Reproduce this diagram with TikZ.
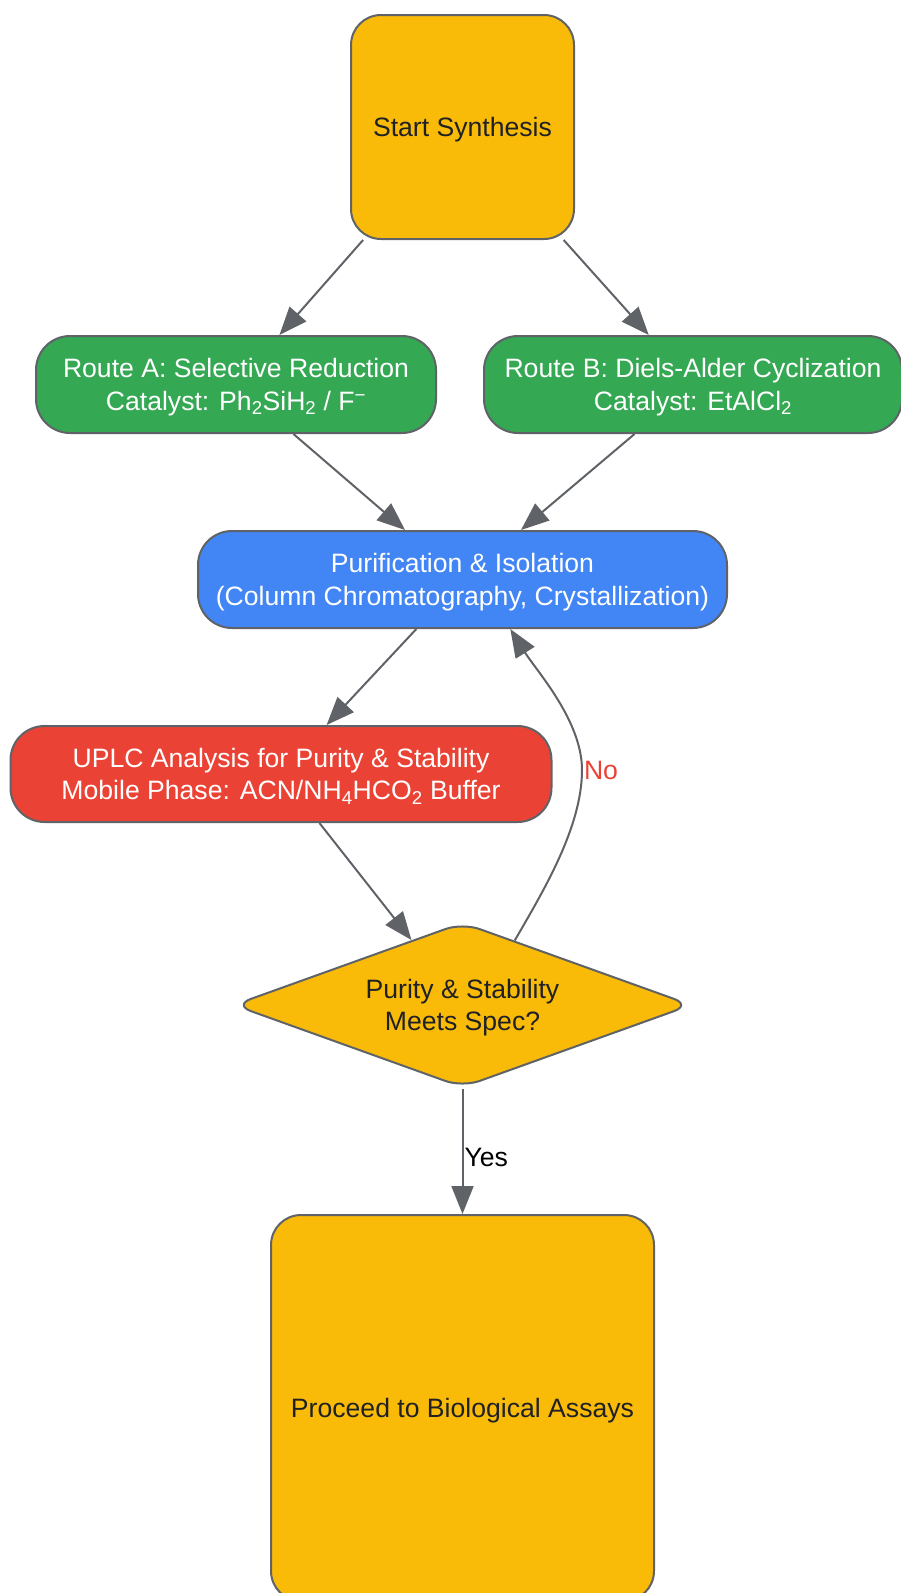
\documentclass[tikz,border=0pt]{standalone}
\usepackage{fontspec}
\setmainfont{Liberation Sans}
\usetikzlibrary{shapes.geometric,arrows.meta}
\definecolor{gyellow}{HTML}{F9BB08}
\definecolor{ggreen}{HTML}{34A853}
\definecolor{gblue}{HTML}{4285F4}
\definecolor{gred}{HTML}{EA4335}
\definecolor{linegray}{HTML}{5F6368}
\definecolor{ink}{HTML}{202124}
\begin{document}
\begin{tikzpicture}[x=1pt,y=-1pt,
  every node/.style={font=\fontsize{26.6}{32.5}\selectfont},
  box/.style={draw=linegray,line width=2pt,rounded corners=30pt,align=center,inner sep=0pt,text depth=0pt},
  flow/.style={draw=linegray,line width=2pt,-{Triangle[length=28pt,width=22pt]}}]
\useasboundingbox (0,0) rectangle (900,1593);
% steps
\node[box,fill=gyellow,text=ink,minimum width=223pt,minimum height=224pt] (start) at (462.5,127) {Start Synthesis};
\node[box,fill=ggreen,text=white,minimum width=400pt,minimum height=97pt,rounded corners=34pt] (routeA) at (236,384.5) {Route A: Selective Reduction\\Catalyst: Ph\textsubscript{2}SiH\textsubscript{2} / F\textsuperscript{−}};
\node[box,fill=ggreen,text=white,minimum width=418pt,minimum height=97pt,rounded corners=34pt] (routeB) at (693,384.5) {Route B: Diels-Alder Cyclization\\Catalyst: EtAlCl\textsubscript{2}};
\node[box,fill=gblue,text=white,minimum width=529pt,minimum height=97pt,rounded corners=34pt] (purif) at (462.5,579.5) {Purification \& Isolation\\(Column Chromatography, Crystallization)};
\node[box,fill=gred,text=white,minimum width=541pt,minimum height=96pt,rounded corners=34pt] (uplc) at (281,774) {UPLC Analysis for Purity \& Stability\\Mobile Phase: ACN/NH\textsubscript{4}HCO\textsubscript{2} Buffer};
\node[diamond,aspect=2.77,draw=linegray,line width=2pt,rounded corners=18pt,fill=gyellow,text=ink,align=center,inner sep=0pt,text depth=-2pt,minimum width=458pt,minimum height=165pt] (check) at (462.5,1005) {Purity \& Stability\\Meets Spec?};
\node[box,fill=gyellow,text=ink,minimum width=383pt,minimum height=386pt] (final) at (462.5,1408) {Proceed to Biological Assays};
\coordinate (bend) at (582,770);
% connectors
\draw[flow] (start) -- (routeA);
\draw[flow] (start) -- (routeB);
\draw[flow] (routeA) -- (purif);
\draw[flow] (routeB) -- (purif);
\draw[flow] (purif) -- (uplc);
\draw[flow] (uplc) -- (check);
\draw[flow] (check.51) to[out=60,in=-90,looseness=0.8] (bend) node[right,text=gred,inner sep=1pt] {No} to[out=90,in=-58,looseness=0.8] (purif.-46);
\draw[flow] (check) -- node[pos=.55,right,inner sep=1pt] {Yes} (final);
\end{tikzpicture}
\end{document}
